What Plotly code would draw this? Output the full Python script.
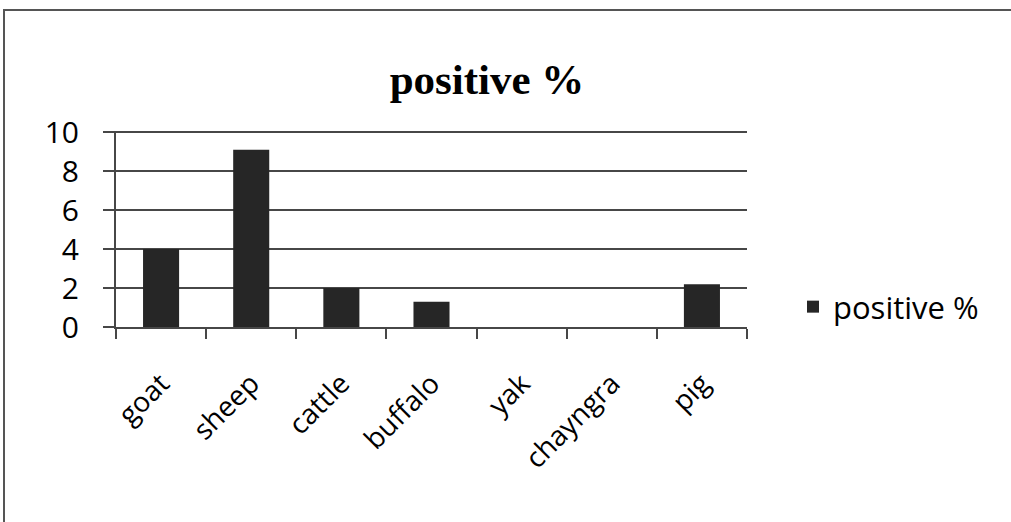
import plotly.graph_objects as go

# Positive rate by animal species
species = ["goat", "sheep", "cattle", "buffalo", "yak", "chayngra", "pig"]
positive_pct = [4.0, 9.1, 2.0, 1.3, 0.0, 0.0, 2.2]
y_ticks = [0, 2, 4, 6, 8, 10]

W, H = 1011, 522
ML, MR, MT, MB = 116, 264, 131, 195
plot_w = W - ML - MR
plot_h = H - MT - MB

def px_to_paper_x(px):
    return (px - ML) / plot_w

def px_to_paper_y(py):
    return (H - MB - py) / plot_h

dark = "#262626"
grid = "#474747"
sans = "Open Sans, Lato, sans-serif"

fig = go.Figure()
fig.add_trace(go.Bar(
    x=species,
    y=positive_pct,
    name="positive %",
    marker=dict(color=dark, line=dict(width=0)),
    width=0.4,
))

fig.update_layout(
    width=W,
    height=H,
    margin=dict(l=ML, r=MR, t=MT, b=MB, autoexpand=False),
    paper_bgcolor="white",
    plot_bgcolor="white",
    title=dict(
        text="<b>positive %</b>",
        font=dict(family="Liberation Serif, Times New Roman, serif", size=43, color="black"),
        x=px_to_paper_x(487), xref="paper", xanchor="center",
        y=1 - 79 / H, yref="container", yanchor="middle",
    ),
    showlegend=True,
    legend=dict(
        x=px_to_paper_x(793), y=px_to_paper_y(307),
        xanchor="left", yanchor="middle",
        font=dict(family=sans, size=31, color="black"),
        bgcolor="rgba(0,0,0,0)",
    ),
    xaxis=dict(
        type="category",
        tickson="boundaries",
        ticks="outside",
        ticklen=10,
        tickwidth=2,
        tickcolor=grid,
        showline=True,
        linecolor=grid,
        linewidth=2,
        showgrid=False,
        tickangle=-45,
        ticklabelstandoff=27,
        automargin=False,
        tickfont=dict(family=sans, size=28, color="black"),
    ),
    yaxis=dict(
        range=[0, 10.06],
        tickvals=y_ticks,
        ticks="outside",
        ticklen=11,
        tickwidth=2,
        tickcolor=grid,
        showline=True,
        linecolor=grid,
        linewidth=2,
        showgrid=True,
        gridcolor=grid,
        gridwidth=2,
        zeroline=False,
        ticklabelstandoff=18,
        automargin=False,
        tickfont=dict(family=sans, size=30, color="black"),
    ),
)

# Chart border frame
fig.add_shape(
    type="rect", xref="paper", yref="paper",
    x0=px_to_paper_x(4), x1=px_to_paper_x(W + 10),
    y0=px_to_paper_y(H + 10), y1=px_to_paper_y(10),
    line=dict(color="#555555", width=2),
    fillcolor="rgba(0,0,0,0)",
)

fig.write_html("out.html")
